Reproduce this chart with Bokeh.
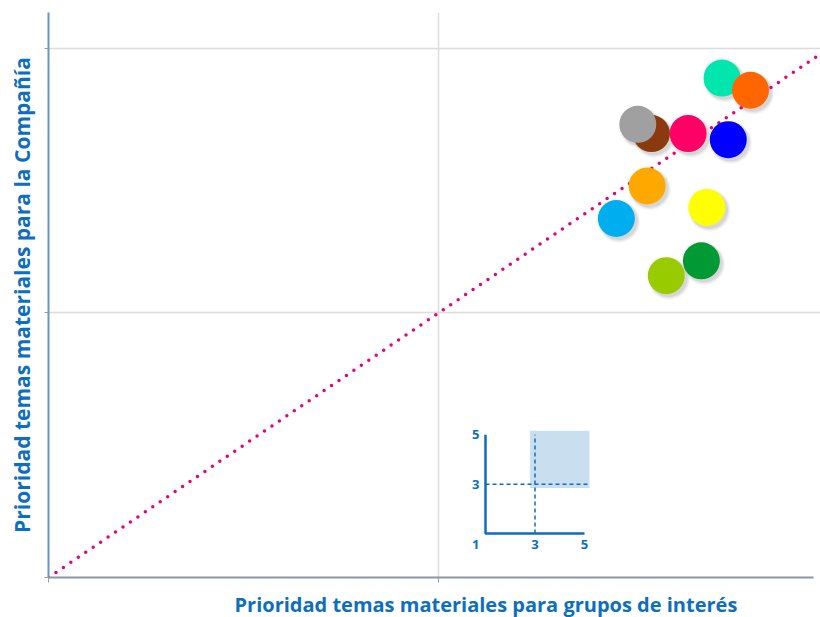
from bokeh.plotting import figure
from bokeh.models import (Range1d, FixedTicker, CustomJSTickFormatter, Title,
                          ColumnDataSource, LinearAxis, Grid)
from bokeh.transform import dodge
from bokeh.core.properties import value
from bokeh.embed import file_html
from bokeh.resources import INLINE

# ---------------- data ----------------
topic_x = [4.727, 4.800, 4.546, 4.511, 4.640, 4.743, 4.535, 4.456, 4.688, 4.674, 4.584]
topic_y = [4.888, 4.842, 4.678, 4.713, 4.678, 4.655, 4.480, 4.357, 4.399, 4.197, 4.141]
topic_colors = ["#00E6AC", "#FF6600", "#8B3A0F", "#A0A0A0", "#FF0066", "#0000FF",
                "#FFA800", "#00AEEF", "#FFFF00", "#009933", "#99CC00"]
diag = [3, 5]
main_ticks = [3, 4, 5]

inset_ticks = [1, 3, 5]
inset_xlabels = ["1", "3", "5"]
inset_ylabels = ["3", "5"]
inset_focus = [3, 5]

x_title = "Prioridad temas materiales para grupos de interés"
y_title = "Prioridad temas materiales para la Compañía"

BLUE = "#0E6EBE"
FONT = "Open Sans"

# ---------------- figure ----------------
p = figure(width=820, height=617, output_backend="svg", toolbar_location=None,
           x_range=Range1d(3, 3 + 772 / 390), y_range=Range1d(3, 3 + 566 / 265),
           min_border_left=48, min_border_right=0, min_border_top=12,
           min_border_bottom=39, x_axis_type=None, y_axis_type=None)
p.outline_line_color = None
p.background_fill_color = "white"
p.border_fill_color = "white"

p.extra_x_ranges = {"ix": Range1d(1 - 437 / 24.75, 1 - 437 / 24.75 + 772 / 24.75)}
p.extra_y_ranges = {"iy": Range1d(1 - 44 / 24.75, 1 - 44 / 24.75 + 566 / 24.75)}

blank = CustomJSTickFormatter(code="return ''")

p.add_layout(Grid(dimension=0, ticker=FixedTicker(ticks=main_ticks),
                  grid_line_color="#DCDCDC", grid_line_width=1.5))
p.add_layout(Grid(dimension=1, ticker=FixedTicker(ticks=main_ticks),
                  grid_line_color="#DCDCDC", grid_line_width=1.5))

xaxis = LinearAxis(ticker=FixedTicker(ticks=main_ticks), formatter=blank,
                   axis_line_color="#8C98A4", axis_line_width=2,
                   major_tick_line_color="#9a9a9a", major_tick_out=5, major_tick_in=0,
                   minor_tick_line_color=None, bounds=(3, 3 + 765 / 390),
                   major_label_standoff=0, axis_label=" ",
                   axis_label_text_font_size="2px", axis_label_standoff=1)
p.add_layout(xaxis, "below")

yaxis = LinearAxis(ticker=FixedTicker(ticks=main_ticks), formatter=blank,
                   axis_line_color="#6D94BF", axis_line_width=2,
                   major_tick_line_color="#9a9a9a", major_tick_out=4, major_tick_in=0,
                   minor_tick_line_color=None,
                   axis_label=y_title, axis_label_text_font=FONT,
                   axis_label_text_font_style="bold", axis_label_text_font_size="21px",
                   axis_label_text_color=BLUE, axis_label_standoff=9,
                   major_label_standoff=0)
p.add_layout(yaxis, "left")

p.add_layout(Title(text=x_title, align="left", offset=186, text_font=FONT,
                   text_font_style="bold", text_font_size="20px", text_color=BLUE,
                   standoff=0), "below")

# diagonal dotted line
p.line(diag, diag, line_color="#E6007E", line_width=3.5, line_dash="0 9",
       line_cap="round")

# inset
p.quad(left=[inset_focus[0] - 0.2], right=[inset_focus[1] + 0.2],
       bottom=[inset_focus[0] - 0.16], top=[inset_focus[1] + 0.16],
       fill_color="#C9DFF0", line_color=None, x_range_name="ix", y_range_name="iy")
p.line([inset_focus[0], inset_focus[0]], [inset_ticks[0], inset_ticks[-1]],
       line_color=BLUE, line_width=1.5, line_dash="4 3",
       x_range_name="ix", y_range_name="iy")
p.line([inset_ticks[0], inset_ticks[-1] + 0.15], [inset_focus[0], inset_focus[0]],
       line_color=BLUE, line_width=1.5, line_dash="4 3",
       x_range_name="ix", y_range_name="iy")
p.line([inset_ticks[0], inset_ticks[0], inset_ticks[-1]],
       [inset_ticks[-1], inset_ticks[0], inset_ticks[0]],
       line_color=BLUE, line_width=2.5, x_range_name="ix", y_range_name="iy")
p.text(x=[inset_ticks[0] - 0.4] * 3, y=inset_ticks[::-1][:2] + [inset_ticks[0] - 0.45],
       text=inset_ylabels[::-1] + [inset_xlabels[0]],
       text_font=value(FONT), text_font_style="bold", text_font_size="13px",
       text_color=BLUE, text_align="center", text_baseline="middle",
       x_range_name="ix", y_range_name="iy")
p.text(x=inset_ticks[1:], y=[inset_ticks[0] - 0.45] * 2, text=inset_xlabels[1:],
       text_font=value(FONT), text_font_style="bold", text_font_size="13px",
       text_color=BLUE, text_align="center", text_baseline="middle",
       x_range_name="ix", y_range_name="iy")

# bubbles with soft shadow
src = ColumnDataSource(dict(x=topic_x, y=topic_y, c=topic_colors))
for sz, a, dx, dy in [(42, 0.05, 0.007, -0.012), (40, 0.08, 0.007, -0.011),
                      (38, 0.12, 0.006, -0.010)]:
    p.scatter(x=dodge("x", dx), y=dodge("y", dy), source=src, size=sz,
              marker="circle", fill_color="#555555", fill_alpha=a, line_color=None)
p.scatter(x="x", y="y", source=src, size=37, marker="circle", fill_color="c",
          line_color=None)

open("out.html", "w").write(file_html(p, INLINE))
